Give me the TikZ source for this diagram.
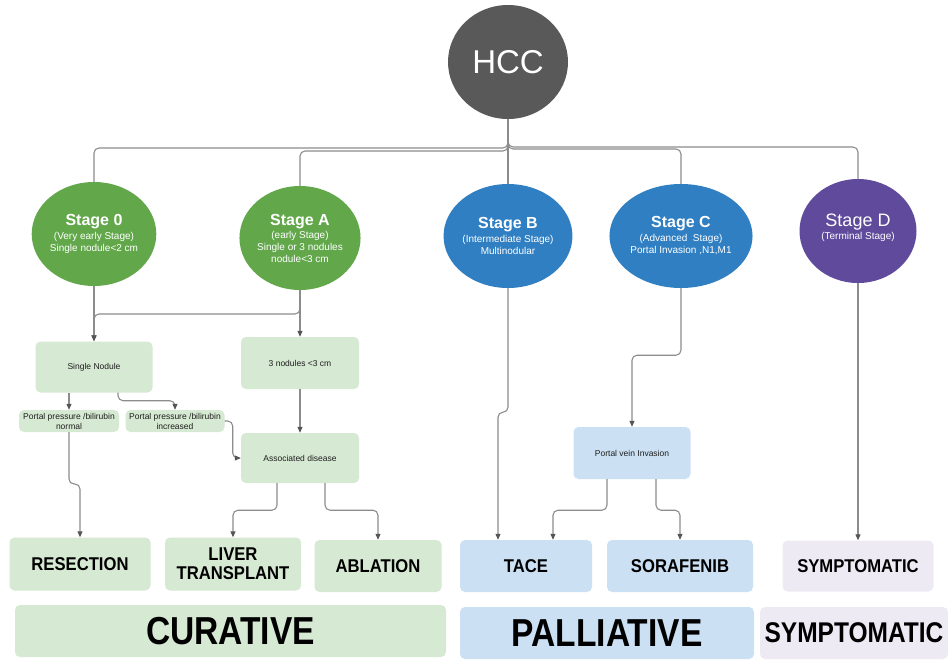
\documentclass[tikz,border=0pt]{standalone}
\usepackage{fontspec}
\setmainfont{Liberation Sans}
\newfontfamily\condensed{Liberation Sans}[FakeStretch=0.86]
\newfontfamily\semicondensed{Liberation Sans}[FakeStretch=0.9]
\usetikzlibrary{shapes.geometric,arrows.meta}

\definecolor{hccgray}{HTML}{595959}
\definecolor{stgreen}{HTML}{62A84B}
\definecolor{stblue}{HTML}{2F7FC2}
\definecolor{stpurple}{HTML}{5F4A9C}
\definecolor{boxgreen}{HTML}{D6E9D2}
\definecolor{boxblue}{HTML}{CBE0F2}
\definecolor{boxpurple}{HTML}{EEEAF3}
\definecolor{linegray}{HTML}{8C8C8C}
\definecolor{tipgray}{HTML}{555555}
\definecolor{textdark}{HTML}{1E1E1E}

\tikzset{
  stage/.style={ellipse, inner sep=0pt, text=white, align=center,
    minimum width=117pt, minimum height=104pt},
  stepbox/.style={rectangle, rounded corners=5pt, inner sep=0pt,
    text=textdark, align=center, font=\fontsize{8.5}{10}\selectfont},
  treatbox/.style={rectangle, rounded corners=5pt, inner sep=0pt,
    text=black, align=center, font=\semicondensed\fontsize{18.5}{19}\selectfont\bfseries},
  bigbox/.style={rectangle, rounded corners=5pt, inner sep=0pt,
    text=black, align=center},
  link/.style={draw=linegray, line width=1.1pt, rounded corners=5pt},
  arrowlink/.style={link, -{Triangle[length=6pt,width=5pt,color=tipgray]}},
}

\newcommand{\sub}[1]{{\fontsize{10}{12}\selectfont #1}}
\newcommand{\stagename}[1]{{\fontsize{16}{19}\selectfont\bfseries #1}}

\begin{document}
\begin{tikzpicture}[x=1pt,y=-1pt]
  \useasboundingbox (0,0) rectangle (948,659);

  % root
  \node[ellipse, fill=hccgray, text=white, inner sep=0pt,
        minimum width=120pt, minimum height=114pt,
        font=\fontsize{33}{36}\selectfont] (hcc) at (508,62) {HCC};

  % stages
  \node[stage, fill=stgreen] (s0) at (94,234)
    {\stagename{Stage 0}\\[2pt]\sub{(Very early Stage)}\\\sub{Single nodule<2 cm}};
  \node[stage, fill=stgreen] (sA) at (300,238)
    {\stagename{Stage A}\\[1pt]\sub{(early Stage)}\\\sub{Single or 3 nodules}\\\sub{nodule<3 cm}};
  \node[stage, fill=stblue] (sB) at (508,236)
    {\stagename{Stage B}\\[2pt]\sub{(Intermediate Stage)}\\\sub{Multinodular}};
  \node[stage, fill=stblue] (sC) at (681,236)
    {\stagename{Stage C}\\[2pt]\sub{(Advanced\ \ Stage)}\\\sub{Portal Invasion ,N1,M1}};
  \node[stage, fill=stpurple] (sD) at (858,231) {};
  \node[text=white, align=center, inner sep=0pt] (sDt) at (858,228)
    {{\fontsize{18}{21}\selectfont Stage D}\\[1pt]\sub{(Terminal Stage)}};

  % intermediate decision boxes
  \node[stepbox, fill=boxgreen, minimum width=117pt, minimum height=51pt] (sn) at (94,367) {Single Nodule};
  \node[stepbox, fill=boxgreen, minimum width=118pt, minimum height=52pt] (n3) at (300,363) {3 nodules <3 cm};
  \node[stepbox, fill=boxgreen, minimum width=100pt, minimum height=22pt] (pn) at (69,421) {Portal pressure /bilirubin\\normal};
  \node[stepbox, fill=boxgreen, minimum width=99pt, minimum height=22pt] (pi) at (175,421) {Portal pressure /bilirubin\\increased};
  \node[stepbox, fill=boxgreen, minimum width=118pt, minimum height=50pt] (ad) at (300,458) {Associated disease};
  \node[stepbox, fill=boxblue, minimum width=117pt, minimum height=52pt] (pv) at (632,453) {Portal vein Invasion};

  % treatments
  \node[treatbox, fill=boxgreen, minimum width=141pt, minimum height=53pt] (res) at (80,564) {RESECTION};
  \node[treatbox, fill=boxgreen, minimum width=136pt, minimum height=53pt] (lt) at (233,564) {LIVER\\TRANSPLANT};
  \node[treatbox, fill=boxgreen, minimum width=127pt, minimum height=52pt] (abl) at (378,566) {ABLATION};
  \node[treatbox, fill=boxblue, minimum width=132pt, minimum height=52pt] (tace) at (526,566) {TACE};
  \node[treatbox, fill=boxblue, minimum width=146pt, minimum height=52pt] (sor) at (680,566) {SORAFENIB};
  \node[treatbox, fill=boxpurple, minimum width=151pt, minimum height=51pt] (sym) at (858,566) {SYMPTOMATIC};

  % treatment classes
  \node[bigbox, fill=boxgreen, minimum width=431pt, minimum height=52pt,
        font=\condensed\fontsize{39}{42}\selectfont\bfseries] (cur) at (230.5,631) {CURATIVE};
  \node[bigbox, fill=boxblue, minimum width=294pt, minimum height=52pt,
        font=\condensed\fontsize{39}{42}\selectfont\bfseries] (pal) at (607,633) {PALLIATIVE};
  \node[bigbox, fill=boxpurple, minimum width=188pt, minimum height=52pt,
        font=\condensed\fontsize{28.5}{30}\selectfont\bfseries] (sym2) at (854,633) {SYMPTOMATIC};

  % root to stages
  \draw[link] (hcc.south) -- (sB.north);
  \draw[link] (hcc.south) -- (hcc.south |- 0,148) -| (s0.north);
  \draw[link] (hcc.south) -- (hcc.south |- 0,151) -| (sA.north);
  \draw[link] (hcc.south) -- (hcc.south |- 0,149) -| (sC.north);
  \draw[link] (hcc.south) -- (hcc.south |- 0,147) -| (sD.north);

  % curative branch
  \draw[arrowlink] (s0.south) -- (sn.north);
  \draw[arrowlink] (sA.south) -- (sA.south |- 0,314) -| (sn.north);
  \draw[arrowlink] (sA.south) -- (n3.north);
  \draw[arrowlink] (sn.south -| pn.north) -- (pn.north);
  \draw[arrowlink] ([xshift=24pt]sn.south) -- ++(0,8) -| (pi.north);
  \draw[arrowlink] (pn.south) -- (pn.south |- 0,484) -| (res.north);
  \draw[arrowlink] (pi.east) -- ++(8,0) |- (ad.west);
  \draw[arrowlink] (n3.south) -- (ad.north);
  \draw[arrowlink] ([xshift=-23pt]ad.south) -- ++(0,27) -| (lt.north);
  \draw[arrowlink] ([xshift=25pt]ad.south) -- ++(0,27) -| (abl.north);

  % palliative branch
  \draw[arrowlink] (sB.south) -- ++(0,124) -| ([xshift=-28pt]tace.north);
  \draw[arrowlink] (sC.south) -- ++(0,67) -| (pv.north);
  \draw[arrowlink] ([xshift=-25pt]pv.south) -- ++(0,31) -| ([xshift=27pt]tace.north);
  \draw[arrowlink] ([xshift=24pt]pv.south) -- ++(0,31) -| (sor.north);

  % terminal branch
  \draw[arrowlink] (sD.south) -- (sym.north);
\end{tikzpicture}
\end{document}
